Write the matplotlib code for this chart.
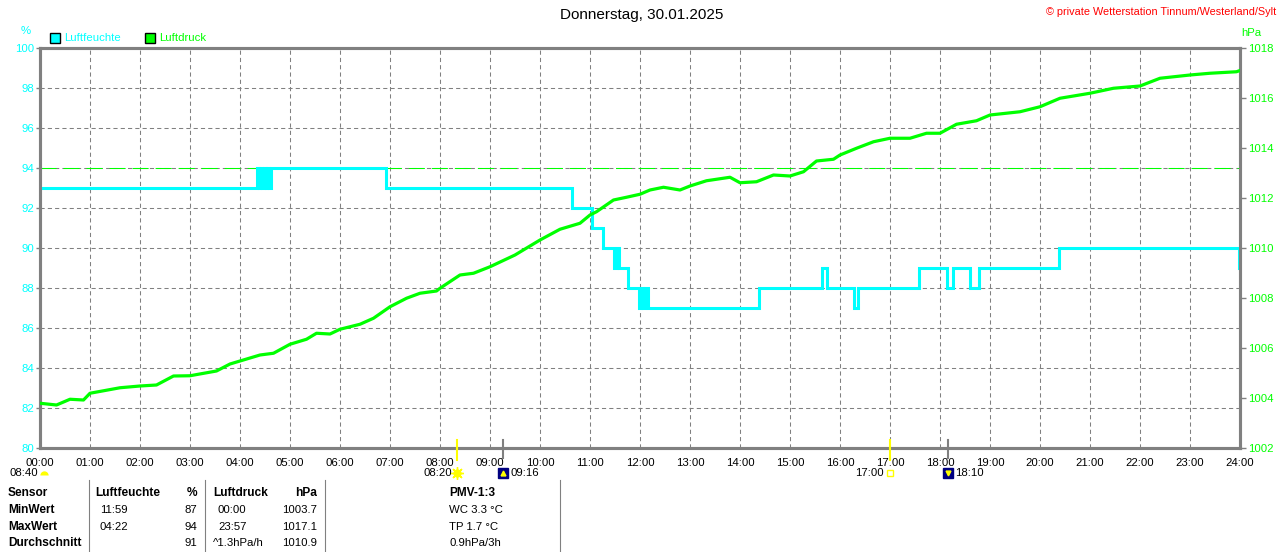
import matplotlib.pyplot as plt
from matplotlib.lines import Line2D
from matplotlib.transforms import blended_transform_factory

plt.rcParams['font.family'] = ['Liberation Sans', 'DejaVu Sans']

CYAN = '#00FFFF'
GREEN = '#00FF00'
GRAY = '#808080'

# Luftfeuchte in %, Stufen: ab Stunde -> Wert
hum_t = [0.0, 4.33, 4.37, 4.40, 4.44, 4.47, 4.51, 4.54, 4.58, 4.62, 6.92,
         10.64, 11.04, 11.25, 11.47, 11.54, 11.57, 11.75, 11.98, 12.02, 12.06,
         12.10, 12.15, 14.37, 15.63, 15.73, 16.27, 16.35, 17.57, 18.13, 18.25,
         18.59, 18.78, 20.37, 23.98, 24.0]
hum_v = [93, 94, 93, 94, 93, 94, 93, 94, 93, 94, 93,
         92, 91, 90, 89, 90, 89, 88, 87, 88, 87,
         88, 87, 88, 89, 88, 87, 88, 89, 88, 89,
         88, 89, 90, 89, 89]
hum_max = 94

# Luftdruck in hPa
pres_t = [0.0, 0.33, 0.6, 0.87, 1.0, 1.6, 2.0, 2.33, 2.67, 3.0, 3.53, 3.8, 4.0,
          4.4, 4.67, 5.0, 5.33, 5.53, 5.8, 6.0, 6.4, 6.67, 7.0, 7.33, 7.6, 7.93,
          8.0, 8.4, 8.67, 9.0, 9.5, 10.0, 10.4, 10.8, 11.0, 11.13, 11.47, 11.73,
          12.0, 12.2, 12.47, 12.8, 13.0, 13.33, 13.8, 14.0, 14.33, 14.67, 15.0,
          15.27, 15.53, 15.87, 16.0, 16.33, 16.67, 17.0, 17.4, 17.73, 18.0,
          18.33, 18.73, 19.0, 19.6, 20.0, 20.4, 21.0, 21.47, 22.0, 22.4, 23.0,
          23.4, 23.93, 24.0]
pres_v = [1003.79, 1003.72, 1003.95, 1003.92, 1004.19, 1004.41, 1004.48,
          1004.52, 1004.88, 1004.89, 1005.08, 1005.36, 1005.48, 1005.72,
          1005.79, 1006.15, 1006.35, 1006.59, 1006.56, 1006.75, 1006.95,
          1007.19, 1007.65, 1007.99, 1008.19, 1008.28, 1008.39, 1008.92,
          1008.99, 1009.25, 1009.72, 1010.32, 1010.75, 1010.99, 1011.32,
          1011.45, 1011.92, 1012.03, 1012.15, 1012.32, 1012.43, 1012.32,
          1012.48, 1012.69, 1012.83, 1012.61, 1012.65, 1012.92, 1012.88,
          1013.05, 1013.48, 1013.55, 1013.72, 1013.99, 1014.25, 1014.39,
          1014.39, 1014.59, 1014.59, 1014.95, 1015.09, 1015.32, 1015.45,
          1015.65, 1015.99, 1016.19, 1016.39, 1016.48, 1016.79, 1016.92,
          1016.99, 1017.05, 1017.1]

hours = list(range(0, 25))
hour_labels = [f'{h:02d}:00' for h in hours]

sun_t = [8 + 20 / 60, 17.0]
sun_lbl = ['08:20', '17:00']
moon_t = [9 + 16 / 60, 18 + 10 / 60]
moon_lbl = ['09:16', '18:10']
day_len = '08:40'

table_rows = [
    ['Sensor', 'Luftfeuchte', '%', 'Luftdruck', 'hPa', 'PMV-1:3'],
    ['MinWert', '11:59', '87', '00:00', '1003.7', 'WC 3.3 °C'],
    ['MaxWert', '04:22', '94', '23:57', '1017.1', 'TP 1.7 °C'],
    ['Durchschnitt', '', '91', '^1.3hPa/h', '1010.9', '0.9hPa/3h'],
]

W, H = 1280, 552


def px(x, y):
    return x / W, 1 - y / H


fig = plt.figure(figsize=(W / 100, H / 100), dpi=100)
ax = fig.add_axes([40 / W, 104 / H, 1200 / W, 400 / H])
ax2 = ax.twinx()

ax.set_xlim(0, 24)
ax.set_ylim(80, 100)
ax.set_xticks(hours)
ax.set_xticklabels(hour_labels)
ax.set_yticks(range(80, 101, 2))
ax2.set_ylim(1002, 1018)
ax2.set_yticks(range(1002, 1019, 2))

ax.grid(True, color=GRAY, lw=0.75, linestyle=(0, (4, 3)))
ax.set_axisbelow(True)

ax.axhline(hum_max, color=GREEN, lw=0.75, linestyle=(0, (15.4, 6.7)), zorder=2)
ax.plot(hum_t, hum_v, drawstyle='steps-post', color=CYAN, lw=2.2, zorder=3,
        solid_joinstyle='miter')
ax2.plot(pres_t, pres_v, color=GREEN, lw=2.3, zorder=3)

for a in (ax, ax2):
    for s in a.spines.values():
        s.set_color(GRAY)
        s.set_linewidth(2.2)
ax.tick_params(axis='x', length=0, pad=7, labelsize=8.2, labelcolor='black')
ax.tick_params(axis='y', length=3, width=1, color=GRAY, pad=1,
               labelsize=8.2, labelcolor=CYAN)
ax2.tick_params(axis='y', length=4, width=1, color=GRAY, pad=2,
                labelsize=8.2, labelcolor=GREEN)

# Kopfzeile
fig.text(*px(642, 15), 'Donnerstag, 30.01.2025', ha='center', va='center',
         fontsize=11)
fig.text(*px(1276, 12), '© private Wetterstation Tinnum/Westerland/Sylt',
         ha='right', va='center', fontsize=7.8, color='#FF0000')
fig.text(*px(26, 31), '%', ha='center', va='center', fontsize=8.2, color=CYAN)
fig.text(*px(1241, 33), 'hPa', ha='left', va='center', fontsize=8.2, color=GREEN)

for lx, lbl, col in [(55, 'Luftfeuchte', CYAN), (150, 'Luftdruck', GREEN)]:
    fig.add_artist(Line2D([lx / W], [1 - 38 / H], marker='s', markersize=7,
                          markerfacecolor=col, markeredgecolor='black',
                          markeredgewidth=1, transform=fig.transFigure))
    fig.text(*px(lx + 9, 38), lbl, ha='left', va='center', fontsize=8.2, color=col)

# Sonne / Mond
bt = blended_transform_factory(ax.transData, fig.transFigure)
y0, y1, ylab = 1 - 440 / H, 1 - 460 / H, 1 - 473 / H
for t, lbl in zip(sun_t, sun_lbl):
    fig.add_artist(Line2D([t, t], [y0, y1], color='#FFFF00', lw=1.5, transform=bt))
fig.add_artist(Line2D([sun_t[0]], [ylab], marker='o', markersize=5,
                      color='#FFFF00', transform=bt))
fig.add_artist(Line2D([sun_t[0]], [ylab], marker=(8, 2, 0), markersize=9,
                      color='#FFFF00', markeredgewidth=1, transform=bt))
fig.add_artist(Line2D([sun_t[1]], [ylab], marker='s', markersize=5,
                      markerfacecolor='white', markeredgecolor='#FFFF00',
                      markeredgewidth=1, transform=bt))
ax.annotate(sun_lbl[0], (sun_t[0], ylab), xycoords=bt, xytext=(-5, 0),
            textcoords='offset pixels', ha='right', va='center', fontsize=8.2)
ax.annotate(sun_lbl[1], (sun_t[1], ylab), xycoords=bt, xytext=(-6, 0),
            textcoords='offset pixels', ha='right', va='center', fontsize=8.2)

for i, (t, lbl) in enumerate(zip(moon_t, moon_lbl)):
    fig.add_artist(Line2D([t, t], [y0, y1 + 2 / H], color=GRAY, lw=1.5, transform=bt))
    fig.add_artist(Line2D([t], [ylab], marker='s', markersize=6.5,
                          color='#000080', transform=bt))
    fig.add_artist(Line2D([t], [ylab], marker='^' if i == 0 else 'v',
                          markersize=3.5, color='#FFFF00', transform=bt))
    ax.annotate(lbl, (t, ylab), xycoords=bt, xytext=(7, 0),
                textcoords='offset pixels', ha='left', va='center', fontsize=8.2)

fig.text(*px(10, 473), day_len, ha='left', va='center', fontsize=8.2)
fig.add_artist(Line2D([44 / W], [1 - 475 / H], marker='o', markersize=6,
                      fillstyle='top', markerfacecolor='#FFFF00',
                      markerfacecoloralt='none', markeredgewidth=0,
                      transform=fig.transFigure))

# Tabelle
row_y = [493, 510, 527, 543]
cols = [(8, 'left'), (100, 'left'), (197, 'right'), (218, 'left'),
        (317, 'right'), (449, 'left')]
head_x = [8, 95, 197, 213, 317, 449]
for r, (yy, row) in enumerate(zip(row_y, table_rows)):
    for c, txt in enumerate(row):
        x, ha = cols[c]
        if r == 0:
            x = head_x[c]
        if c == 3 and txt.startswith('^'):
            x = 213
        bold = r == 0 or c == 0
        fig.text(*px(x, yy), txt, ha=ha, va='center',
                 fontsize=8.6 if bold else 8.2,
                 fontweight='bold' if bold else 'normal')

for vx in [89, 205, 325, 560]:
    fig.add_artist(Line2D([vx / W, vx / W], [1 - 480 / H, 0], color=GRAY,
                          lw=0.8, transform=fig.transFigure))

fig.savefig('out.png', dpi=100)
